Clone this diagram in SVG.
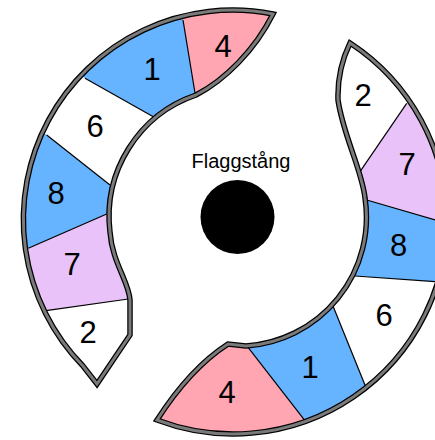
<svg xmlns="http://www.w3.org/2000/svg" width="435" height="440" viewBox="0 0 435 440">
<defs>
<style>
.pink{fill:#ffa6b2}
.blue{fill:#66b3ff}
.lav{fill:#e8c2f8}
.wht{fill:#ffffff}
.num{font-family:"Liberation Sans",Arial,sans-serif;font-size:31px;fill:#000;text-anchor:middle}
.lbl{font-family:"Liberation Sans",Arial,sans-serif;font-size:20px;fill:#000;text-anchor:middle}
.div{stroke:#000;stroke-width:1.2;fill:none}
.rimA{fill:none;stroke:#000;stroke-width:5.5;stroke-linejoin:miter}
.rimB{fill:none;stroke:#7a7a7a;stroke-width:3;stroke-linejoin:miter}
</style>
<path id="bandL" d="M 273 14 A 209.5 209.5 0 0 0 83 366 L 97 384 L 130 335 L 130 300 C 129 282 112 262 110 232 A 128.5 128.5 0 0 1 196 95 C 225 80 255 50 273 14 Z"/>
<path id="bandR" d="M 350 43 A 214 214 0 0 1 447 222 A 214 214 0 0 1 157 420 C 175 392 200 362 228 344 L 246 346 A 129 129 0 0 0 365 198 C 362 170 343 135 338 100 Q 337 70 350 43 Z"/>
<clipPath id="clipL"><path d="M 273 14 A 209.5 209.5 0 0 0 83 366 L 97 384 L 130 335 L 130 300 C 129 282 112 262 110 232 A 128.5 128.5 0 0 1 196 95 C 225 80 255 50 273 14 Z"/></clipPath>
<clipPath id="clipR"><path d="M 350 43 A 214 214 0 0 1 447 222 A 214 214 0 0 1 157 420 C 175 392 200 362 228 344 L 246 346 A 129 129 0 0 0 365 198 C 362 170 343 135 338 100 Q 337 70 350 43 Z"/></clipPath>
</defs>
<rect width="435" height="440" fill="#ffffff"/>

<g id="left-band">
  <g clip-path="url(#clipL)">
    <g id="L4"><polygon class="pink" points="179.4,-1.9 198.6,114.9 320,114.9 320,-2"/></g>
    <g id="L1"><polygon class="blue" points="198.6,114.9 179.4,-1.9 120,0 64.5,66.8 173.8,128.2"/></g>
    <g id="L6"><polygon class="wht" points="173.8,128.2 64.5,66.8 20,80 27.7,120 122.7,195"/></g>
    <g id="L8"><polygon class="blue" points="122.7,195 27.7,120 0,180 4.8,258.6 122.4,207.1"/></g>
    <g id="L7"><polygon class="lav" points="122.4,207.1 4.8,258.6 21.3,314.2 153,295.5"/></g>
    <g id="L2"><polygon class="wht" points="153,295.5 21.3,314.2 0,330 60,420 160,420"/></g>
    <g id="dividers-left">
      <line class="div" x1="195" y1="93" x2="183" y2="20"/>
      <line class="div" x1="153.3" y1="116.7" x2="85" y2="78.3"/>
      <line class="div" x1="110" y1="185" x2="46.7" y2="135"/>
      <line class="div" x1="106.7" y1="214" x2="28.3" y2="248.3"/>
      <line class="div" x1="128.3" y1="299" x2="46" y2="310.7"/>
    </g>
  </g>
  <use href="#bandL" class="rimA"/>
  <use href="#bandL" class="rimB"/>
  <text class="num" x="223" y="56.5">4</text>
  <text class="num" x="152" y="79.5">1</text>
  <text class="num" x="95" y="136.5">6</text>
  <text class="num" x="56" y="203.5">8</text>
  <text class="num" x="72" y="275">7</text>
  <text class="num" x="88" y="343">2</text>
</g>

<g id="right-band">
  <g clip-path="url(#clipR)">
    <g id="R2"><polygon class="wht" points="341.3,199 425.4,76 450,0 300,0 300,199"/></g>
    <g id="R7"><polygon class="lav" points="353,182 425.4,76 470,90 470,230.2 356.5,197"/></g>
    <g id="R8"><polygon class="blue" points="356.5,197 470,230.2 470,284.2 343,275"/></g>
    <g id="R6"><polygon class="wht" points="343,275 470,284.2 470,440 376.7,414 326.6,290.2"/></g>
    <g id="R1"><polygon class="blue" points="326.6,290.2 376.7,414 380,450 323.4,444.5 234.9,330.5"/></g>
    <g id="R4"><polygon class="pink" points="234.9,330.5 323.4,444.5 140,450 140,330"/></g>
    <g id="dividers-right">
      <line class="div" x1="360" y1="171.7" x2="406.7" y2="103.3"/>
      <line class="div" x1="366.7" y1="200" x2="470" y2="230.2"/>
      <line class="div" x1="355" y1="276" x2="470" y2="284.2"/>
      <line class="div" x1="333.3" y1="306.7" x2="366.7" y2="389.3"/>
      <line class="div" x1="246.7" y1="345.7" x2="305.7" y2="421.7"/>
    </g>
  </g>
  <use href="#bandR" class="rimA"/>
  <use href="#bandR" class="rimB"/>
  <text class="num" x="363" y="106">2</text>
  <text class="num" x="407" y="175">7</text>
  <text class="num" x="398.5" y="256">8</text>
  <text class="num" x="384" y="326">6</text>
  <text class="num" x="310" y="378">1</text>
  <text class="num" x="227" y="403">4</text>
</g>

<g id="flagpole">
  <text class="lbl" x="241" y="168">Flaggstång</text>
  <circle cx="237.5" cy="217" r="37" fill="#000"/>
</g>
</svg>
